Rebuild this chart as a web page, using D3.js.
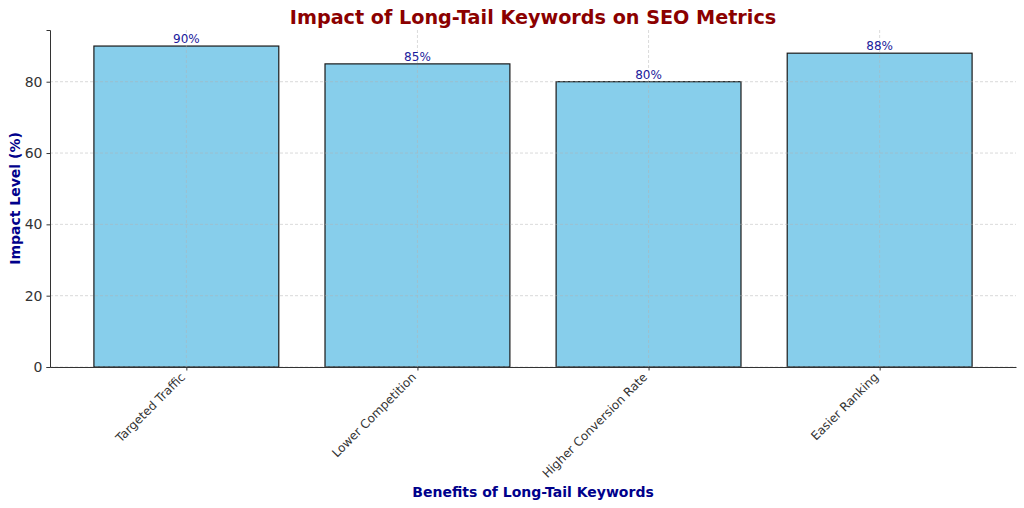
<!DOCTYPE html>
<html>
<head>
<meta charset="utf-8">
<script src="https://cdn.jsdelivr.net/npm/d3@7"></script>
<style>
  body { margin: 0; background: #fff; }
  svg { font-family: "DejaVu Sans", sans-serif; }
</style>
</head>
<body>
<svg id="chart" width="1024" height="508"></svg>
<script>
var benefits = ["Targeted Traffic", "Lower Competition", "Higher Conversion Rate", "Easier Ranking"]
var impact = [90, 85, 80, 88]
var yTicks = [0, 20, 40, 60, 80]

var dimensions = {
  width: 1024,
  height: 508,
  margin: { top: 30, bottom: 141, right: 8, left: 50 }
}
var innerW = dimensions.width - dimensions.margin.left - dimensions.margin.right
var innerH = dimensions.height - dimensions.margin.top - dimensions.margin.bottom

var svg = d3.select("#chart")
var g = svg.append("g")
  .attr("transform", "translate(" + dimensions.margin.left + "," + dimensions.margin.top + ")")

// matplotlib style: category positions 0..n-1, bar width 0.8, 5% margins
var x = d3.scaleLinear()
  .domain([-0.59, benefits.length - 1 + 0.59])
  .range([0, innerW])

var y = d3.scaleLinear()
  .domain([0, d3.max(impact) * 1.05])
  .range([innerH, 0])

var barW = x(0.8) - x(0)

// bars
g.selectAll("rect.bar")
  .data(impact)
  .enter().append("rect")
    .attr("class", "bar")
    .attr("x", function(d, i) { return x(i - 0.4) })
    .attr("y", function(d) { return y(d) })
    .attr("width", barW)
    .attr("height", function(d) { return innerH - y(d) })
    .attr("fill", "#87ceeb")
    .attr("stroke", "#1a1a1a")
    .attr("stroke-width", 1.2)

// grid on top of bars
var grid = g.append("g")
grid.selectAll("line.h")
  .data(yTicks)
  .enter().append("line")
    .attr("x1", 0).attr("x2", innerW)
    .attr("y1", function(d) { return y(d) }).attr("y2", function(d) { return y(d) })
    .attr("stroke", "#b0b0b0").attr("stroke-opacity", 0.6)
    .attr("stroke-dasharray", "3,2").attr("stroke-width", 0.8)
grid.selectAll("line.v")
  .data(benefits)
  .enter().append("line")
    .attr("x1", function(d, i) { return x(i) }).attr("x2", function(d, i) { return x(i) })
    .attr("y1", 0).attr("y2", innerH)
    .attr("stroke", "#b0b0b0").attr("stroke-opacity", 0.6)
    .attr("stroke-dasharray", "3,2").attr("stroke-width", 0.8)

// value labels
g.selectAll("text.val")
  .data(impact)
  .enter().append("text")
    .attr("x", function(d, i) { return x(i) })
    .attr("y", function(d) { return y(d) - 3 })
    .attr("text-anchor", "middle")
    .style("font-size", "12px")
    .attr("fill", "#1a1a9c")
    .text(function(d) { return d + "%" })

// y axis
var yAxis = g.append("g")
  .call(d3.axisLeft(y).tickValues(yTicks).tickSize(3.5).tickPadding(4))
yAxis.select(".domain").attr("stroke", "#333").attr("stroke-width", 1)
yAxis.selectAll(".tick line").attr("stroke", "#333")
yAxis.selectAll(".tick text").style("font-size", "14px").attr("fill", "#333").style("font-family", "DejaVu Sans")

// x axis
var xAxis = g.append("g")
  .attr("transform", "translate(0," + innerH + ")")
  .call(d3.axisBottom(x).tickValues(d3.range(benefits.length)).tickFormat(function(i) { return benefits[i] }).tickSize(3.5).tickSizeOuter(0))
xAxis.select(".domain").attr("stroke", "#333").attr("stroke-width", 1)
xAxis.selectAll(".tick line").attr("stroke", "#333")
xAxis.selectAll(".tick text")
  .style("font-size", "12px").attr("fill", "#333").style("font-family", "DejaVu Sans")
  .attr("text-anchor", "end")
  .attr("dy", "0.35em")
  .attr("transform", "translate(-4,8) rotate(-45)")
  .attr("y", 0).attr("x", 0)

// title and axis labels
svg.append("text")
  .text("Impact of Long-Tail Keywords on SEO Metrics")
  .attr("x", dimensions.margin.left + innerW / 2)
  .attr("y", 24)
  .attr("text-anchor", "middle")
  .style("font-size", "19.2px").style("font-weight", "bold")
  .attr("fill", "#8b0000")

svg.append("text")
  .text("Benefits of Long-Tail Keywords")
  .attr("x", dimensions.margin.left + innerW / 2)
  .attr("y", 497)
  .attr("text-anchor", "middle")
  .style("font-size", "14px").style("font-weight", "bold")
  .attr("fill", "#00008b")

svg.append("text")
  .text("Impact Level (%)")
  .attr("transform", "translate(20," + (dimensions.margin.top + innerH / 2) + ") rotate(-90)")
  .attr("text-anchor", "middle")
  .style("font-size", "14px").style("font-weight", "bold")
  .attr("fill", "#00008b")
</script>
</body>
</html>
